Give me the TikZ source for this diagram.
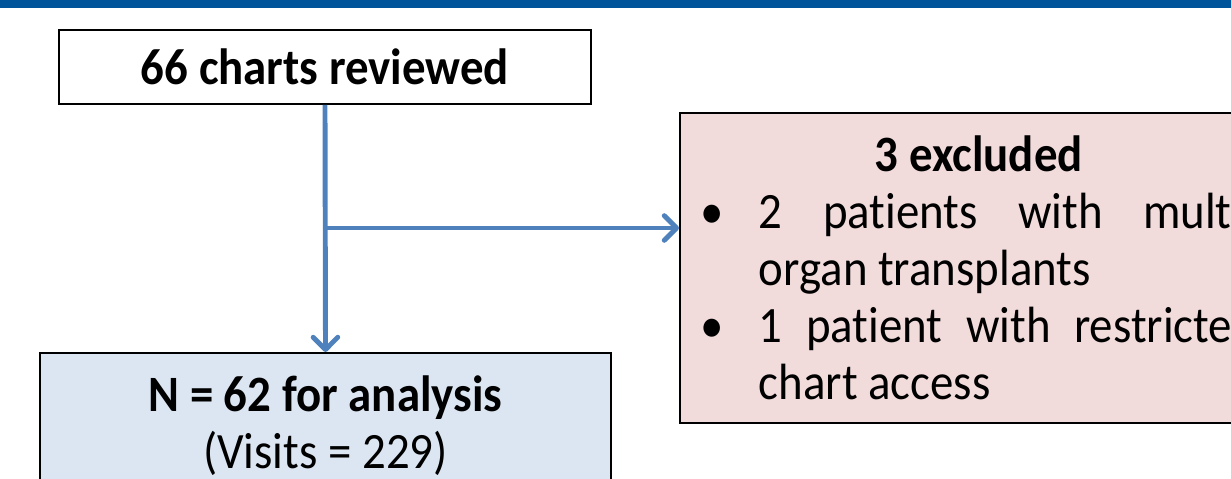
\documentclass[tikz,border=0pt]{standalone}
\usepackage{fontspec}
\setmainfont{Carlito}[FakeStretch=0.92, Ligatures=NoCommon]
\usetikzlibrary{positioning,arrows.meta}
\definecolor{barc}{HTML}{00549A}
\definecolor{flowc}{HTML}{4F81BD}
\definecolor{exclc}{HTML}{F2DCDB}
\definecolor{anac}{HTML}{DCE6F2}
\newcommand{\bulletlabel}[1]{#1\hfil}
\newenvironment{exclist}{\begin{list}{\textbullet}{\leftmargin=1.16cm \labelwidth=\leftmargin \labelsep=0pt
  \itemsep=0pt \topsep=0pt \parsep=0pt \partopsep=0pt \let\makelabel\bulletlabel}}{\end{list}}

\begin{document}
\begin{tikzpicture}[x=0.02cm, y=-0.02cm, font=\fontsize{29}{32.5}\selectfont,
  box/.style={draw, line width=1.1pt, inner sep=0pt, align=center},
  flow/.style={draw=flowc, line width=2.8pt, -{Straight Barb[round, length=7pt, width=14pt]}}]
  \useasboundingbox (0,0) rectangle (1231,479);
  \clip (0,0) rectangle (1231,479);
  \fill[barc] (0,0) rectangle (1231,8);
  % boxes
  \node[box, fill=white, minimum width=10.64cm, minimum height=1.48cm] (charts) at (325,67) {\textbf{66 charts reviewed}};
  \node[box, fill=anac, anchor=north, minimum width=11.42cm, minimum height=2.9cm] (analysis) at (325.5,352)
    {\textbf{N = 62 for analysis}\\(Visits = 229)};
  \node[box, fill=exclc, anchor=north west, inner xsep=0.42cm, minimum height=6.2cm, text width=11.12cm, align=justify] (excl) at (679,112)
    {\hyphenpenalty=10000
     {\centering\textbf{3 excluded}\par}
     \begin{exclist}
     \item 2 patients with multi-organ transplants
     \item 1 patient with restricted chart access
     \end{exclist}};
  % connectors
  \coordinate (split) at (charts.south |- 0,228);
  \draw[flow] (charts.south) -- (analysis.north);
  \draw[flow] (split) -- (split -| excl.west);
\end{tikzpicture}
\end{document}
